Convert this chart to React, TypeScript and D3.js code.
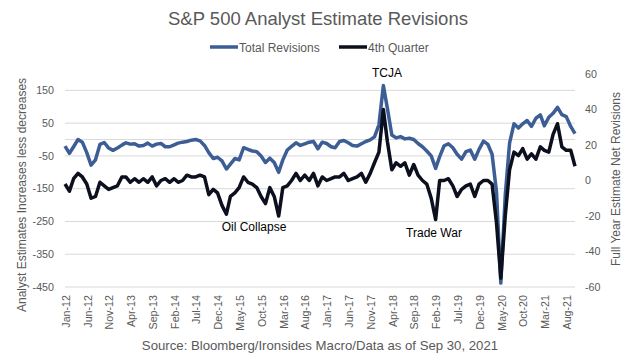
import React, { useEffect, useRef } from 'react';
import * as d3 from 'd3';

// monthly readings, Jan-12 .. Oct-21
const startMonth = new Date(2012, 0, 1);

// Total Revisions (left axis)
const totalRevisions = [
  -20, -42, -22, 0, -8, -40, -78, -62, -15, -9, -26, -33, -26, -17, -10, -14, -13, -20, -18, -11,
  -20, -14, -12, -22, -22, -16, -11, -8, -6, -2,
  0, -4, -18, -40, -58, -54, -65, -90, -75, -58, -62, -25, -30, -35, -37, -50, -70, -57, -70, -100,
  -62, -32, -21, -10, -18, -13, -8, -6, -28, -8,
  -12, -22, -25, -6, -3, -10, -18, -20, -13, -6, -1, 8, 45, 165, 95, 14, 5, 9, 2, 4,
  0, -12, -22, -35, -50, -88, -52, -19, -13, -25,
  -45, -60, -37, -32, -60, -30, -5, -15, -45, -160, -438, -170, -11, 48, 35, 48, 58, 40, 65, 75,
  42, 68, 80, 98, 76, 70, 40, 18,
];

// 4th Quarter (right axis)
const fourthQuarter = [
  -2, -6, 1, 4, 2, -2, -10, -9, -1, -3, -5, -4, -3, 2, 2, -1, 1, -1, 1, -1,
  2, -3, 0, 1, -1, 1, -1, 0, 3, 2,
  2, 3, 2, -8, -5, -7, -14, -19, -9, -7, -4, 2, -1, -2, -4, -9, -13, -4, -9, -20,
  -4, -3, 0, 4, 0, 3, 0, 4, -3, 2,
  0, 1, 2, 2, 4, 0, 1, 2, 4, -1, 4, 10, 16, 40, 22, 6, 10, 8, 10, 3,
  9, 3, 0, -2, -10, -22, 0, 0, 1, -3,
  -9, -5, -3, -2, -9, -2, 0, 0, -2, -24, -55, -20, 6, 16, 14, 18, 12, 15, 12, 19,
  17, 16, 26, 32, 19, 17, 17, 8,
];

const xTickLabels = [
  'Jan-12', 'Jun-12', 'Nov-12', 'Apr-13', 'Sep-13', 'Feb-14', 'Jul-14', 'Dec-14',
  'May-15', 'Oct-15', 'Mar-16', 'Aug-16', 'Jan-17', 'Jun-17', 'Nov-17', 'Apr-18',
  'Sep-18', 'Feb-19', 'Jul-19', 'Dec-19', 'May-20', 'Oct-20', 'Mar-21', 'Aug-21',
];
const leftTicks = [150, 50, -50, -150, -250, -350, -450];
const rightTicks = [60, 40, 20, 0, -20, -40, -60];

const FONT = "'Liberation Sans', Arial, sans-serif";
const GREY = '#595959';
const BLUE = '#3d5d95';
const BLACK = '#0b0f1e';

function monthDate(i: number) {
  return new Date(startMonth.getFullYear(), startMonth.getMonth() + i, 1);
}

function App() {
  const ref = useRef<SVGSVGElement | null>(null);

  useEffect(() => {
    const svg = d3.select(ref.current);
    svg.selectAll('*').remove();

    const x = d3.scaleTime()
      .domain([startMonth, monthDate(117)])
      .range([65, 575]);
    const yL = d3.scaleLinear().domain([-450, 200]).range([287, 74]);
    const yR = d3.scaleLinear().domain([-60, 60]).range([287, 74]);

    // gridlines
    svg.append('g')
      .selectAll('line')
      .data(leftTicks)
      .join('line')
        .attr('x1', 65).attr('x2', 575)
        .attr('y1', d => yL(d)).attr('y2', d => yL(d))
        .attr('stroke', '#d9d9d9').attr('stroke-width', 1);

    // horizontal axis crosses at 0
    svg.append('line')
      .attr('x1', 65).attr('x2', 575)
      .attr('y1', yL(0)).attr('y2', yL(0))
      .attr('stroke', '#d9d9d9').attr('stroke-width', 1);

    // left tick labels
    svg.append('g')
      .selectAll('text')
      .data(leftTicks)
      .join('text')
        .attr('x', 54)
        .attr('y', d => yL(d))
        .attr('dy', '0.35em')
        .attr('text-anchor', 'end')
        .style('font', `10.7px ${FONT}`)
        .attr('fill', GREY)
        .text(d => d);

    // right tick labels
    svg.append('g')
      .selectAll('text')
      .data(rightTicks)
      .join('text')
        .attr('x', 585)
        .attr('y', d => yR(d))
        .attr('dy', '0.35em')
        .style('font', `10.7px ${FONT}`)
        .attr('fill', GREY)
        .text(d => d);

    // x tick labels (every 5 months, rotated)
    svg.append('g')
      .selectAll('text')
      .data(xTickLabels)
      .join('text')
        .attr('transform', (d, i) => `translate(${x(monthDate(i * 5)) + 1},295) rotate(-90)`)
        .attr('dy', '0.35em')
        .attr('text-anchor', 'end')
        .style('font', `10.7px ${FONT}`)
        .attr('fill', GREY)
        .text(d => d);

    // lines
    const lineL = d3.line<number>()
      .x((d, i) => x(monthDate(i)))
      .y(d => yL(d));
    const lineR = d3.line<number>()
      .x((d, i) => x(monthDate(i)))
      .y(d => yR(d));

    svg.append('path')
      .datum(totalRevisions)
      .attr('fill', 'none')
      .attr('stroke', BLUE)
      .attr('stroke-width', 3.5)
      .attr('stroke-linejoin', 'round')
      .attr('d', lineL);

    svg.append('path')
      .datum(fourthQuarter)
      .attr('fill', 'none')
      .attr('stroke', BLACK)
      .attr('stroke-width', 3.5)
      .attr('stroke-linejoin', 'round')
      .attr('d', lineR);

    // title
    svg.append('text')
      .attr('x', 318).attr('y', 25)
      .attr('text-anchor', 'middle')
      .style('font', `18.5px ${FONT}`)
      .attr('fill', GREY)
      .text('S&P 500 Analyst Estimate Revisions');

    // legend
    const legend = [
      { label: 'Total Revisions', color: BLUE, x: 210 },
      { label: '4th Quarter', color: BLACK, x: 339 },
    ];
    const lg = svg.append('g').selectAll('g').data(legend).join('g');
    lg.append('line')
      .attr('x1', d => d.x).attr('x2', d => d.x + 28)
      .attr('y1', 47).attr('y2', 47)
      .attr('stroke', d => d.color).attr('stroke-width', 3.5);
    lg.append('text')
      .attr('x', d => d.x + 29).attr('y', 51.5)
      .style('font', `12px ${FONT}`)
      .attr('fill', GREY)
      .text(d => d.label);

    // axis titles
    svg.append('text')
      .attr('transform', 'translate(26,195) rotate(-90)')
      .attr('text-anchor', 'middle')
      .style('font', `12px ${FONT}`)
      .attr('fill', GREY)
      .text('Analyst Estimates Increases less decreases');
    svg.append('text')
      .attr('transform', 'translate(620,179) rotate(-90)')
      .attr('text-anchor', 'middle')
      .style('font', `12px ${FONT}`)
      .attr('fill', GREY)
      .text('Full Year Estimate Net Revisions');

    // annotations
    const notes = [
      { text: 'TCJA', x: 387, y: 77 },
      { text: 'Oil Collapse', x: 254, y: 231 },
      { text: 'Trade War', x: 434, y: 237 },
    ];
    svg.append('g')
      .selectAll('text')
      .data(notes)
      .join('text')
        .attr('x', d => d.x).attr('y', d => d.y)
        .attr('text-anchor', 'middle')
        .style('font', `12px ${FONT}`)
        .attr('fill', '#000')
        .text(d => d.text);

    // source
    svg.append('text')
      .attr('x', 320).attr('y', 350)
      .attr('text-anchor', 'middle')
      .style('font', `13.2px ${FONT}`)
      .attr('fill', GREY)
      .text('Source: Bloomberg/Ironsides Macro/Data as of Sep 30, 2021');
  }, []);

  return (
    <svg
      ref={ref}
      width={633}
      height={359}
      style={{ position: 'absolute', left: 0, top: 0, background: '#fff' }}
    />
  );
}

export default App;
